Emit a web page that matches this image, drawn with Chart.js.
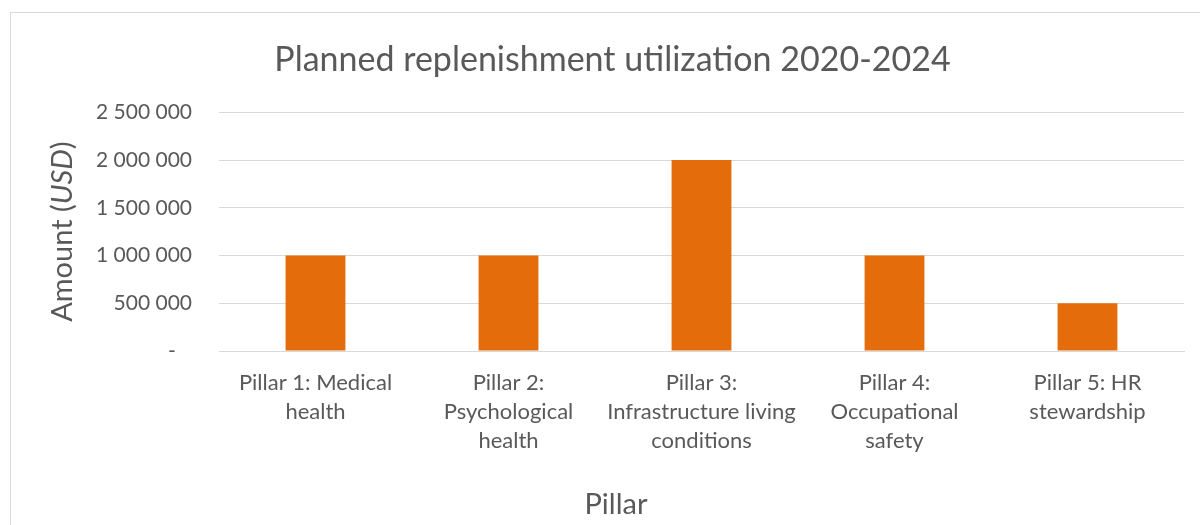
<!DOCTYPE html>
<html>
<head>
<meta charset="utf-8">
<script src="https://cdn.jsdelivr.net/npm/chart.js@4.4.0/dist/chart.umd.min.js"></script>
<style>
  html, body { margin: 0; padding: 0; background: #fff; overflow: hidden; }
  #frame {
    position: absolute; left: 10px; top: 12px;
    width: 1300px; height: 700px;
    border: 1px solid #d9d9d9;
  }
  #wrap { position: absolute; left: 0; top: 0; width: 1200px; height: 525px; }
</style>
</head>
<body>
<div id="frame"></div>
<div id="wrap"><canvas id="chart" width="1200" height="525"></canvas></div>
<script>
// pillars and planned amounts (USD)
const pillars = [
  ["Pillar 1: Medical", "health"],
  ["Pillar 2:", "Psychological", "health"],
  ["Pillar 3:", "Infrastructure living", "conditions"],
  ["Pillar 4:", "Occupational", "safety"],
  ["Pillar 5: HR", "stewardship"]
];
const amounts = [1000000, 1000000, 2000000, 1000000, 500000];
const yMax = 2500000;
const yStep = 500000;

const textColor = '#595959';
const gridColor = '#d9d9d9';
const fontFamily = 'Lato, "Open Sans", sans-serif';

// format like Excel accounting: spaces as thousand separators, dash for zero
function fmt(v) {
  if (v === 0) return '-   ';
  return String(v).replace(/\B(?=(\d{3})+(?!\d))/g, ' ');
}

// axis titles: y title with italic "USD", x title placed like the original
const axisTitlePlugin = {
  id: 'axisTitles',
  afterDraw(chart) {
    const ctx = chart.ctx;
    const area = chart.chartArea;
    const parts = [
      { t: 'Amount (', f: '29px ' + fontFamily },
      { t: 'USD', f: 'italic 29px ' + fontFamily },
      { t: ')', f: '29px ' + fontFamily }
    ];
    ctx.save();
    let total = 0;
    parts.forEach(p => { ctx.font = p.f; p.w = ctx.measureText(p.t).width; total += p.w; });
    ctx.translate(63, (area.top + area.bottom) / 2);
    ctx.rotate(-Math.PI / 2);
    ctx.fillStyle = textColor;
    ctx.textBaseline = 'middle';
    ctx.textAlign = 'left';
    let x = -total / 2;
    parts.forEach(p => { ctx.font = p.f; ctx.fillText(p.t, x, 0); x += p.w; });
    ctx.restore();

    ctx.save();
    ctx.font = '29px ' + fontFamily;
    ctx.fillStyle = textColor;
    ctx.textAlign = 'center';
    ctx.textBaseline = 'middle';
    ctx.fillText('Pillar', 616, 505);
    ctx.restore();
  }
};

new Chart(document.getElementById('chart'), {
  type: 'bar',
  data: {
    labels: pillars,
    datasets: [{
      label: 'Amount',
      data: amounts,
      backgroundColor: '#e46c0a',
      barPercentage: 0.31,
      categoryPercentage: 1
    }]
  },
  options: {
    responsive: false,
    animation: false,
    layout: { padding: { left: 41, right: 16, top: 0, bottom: 0 } },
    plugins: {
      legend: { display: false },
      tooltip: { enabled: false },
      title: {
        display: true,
        text: 'Planned replenishment utilization 2020-2024',
        color: textColor,
        font: { family: fontFamily, size: 34, weight: 'normal', lineHeight: 1.2 },
        padding: { top: 40, bottom: 31.5 }
      }
    },
    scales: {
      x: {
        grid: { display: false, drawTicks: false },
        border: { display: true, color: gridColor, width: 1 },
        ticks: {
          color: textColor,
          padding: 17,
          autoSkip: false,
          maxRotation: 0,
          font: { family: fontFamily, size: 22, lineHeight: 1.32 }
        },
        afterFit(scale) { scale.height = 174; }
      },
      y: {
        min: 0,
        max: yMax,
        grid: { color: gridColor, lineWidth: 1, drawTicks: false },
        border: { display: false },
        ticks: {
          stepSize: yStep,
          color: textColor,
          padding: 27,
          font: { family: fontFamily, size: 21 },
          callback: v => fmt(v)
        },
        afterFit(scale) { scale.width = 178; }
      }
    }
  },
  plugins: [axisTitlePlugin]
});
</script>
</body>
</html>
